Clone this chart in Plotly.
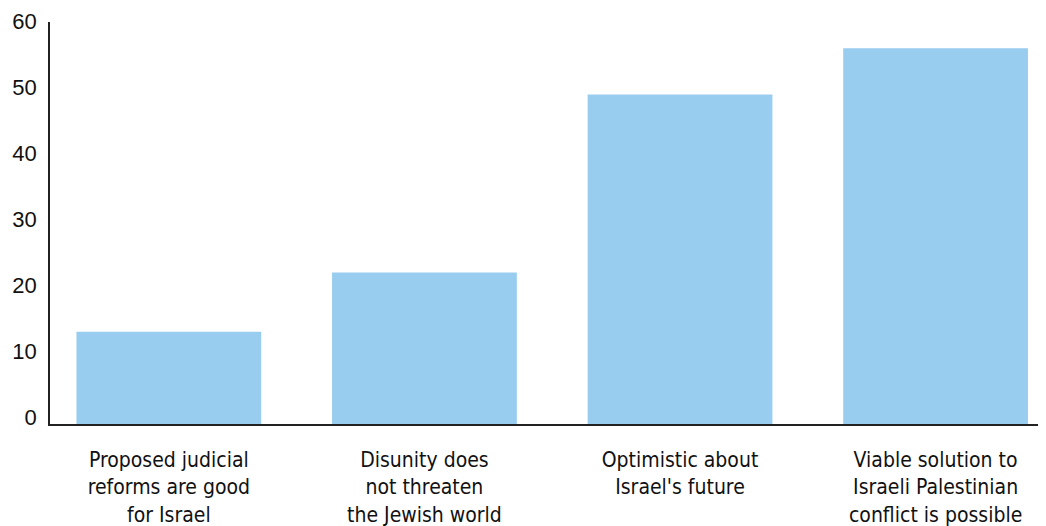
import plotly.graph_objects as go

categories = [
    "Proposed judicial<br>reforms are good<br>for Israel",
    "Disunity does<br>not threaten<br>the Jewish world",
    "Optimistic about<br>Israel's future",
    "Viable solution to<br>Israeli Palestinian<br>conflict is possible",
]
values = [14, 23, 50, 57]
y_ticks = [0, 10, 20, 30, 40, 50, 60]

fig = go.Figure(
    go.Bar(
        x=list(range(len(categories))),
        y=values,
        width=0.723,
        marker=dict(color="#99CDEF", line=dict(width=0)),
        hoverinfo="skip",
    )
)

fig.update_layout(
    width=1046,
    height=526,
    margin=dict(l=42, r=8, t=14, b=110, autoexpand=False),
    paper_bgcolor="white",
    plot_bgcolor="white",
    showlegend=False,
    xaxis=dict(
        automargin=False,
        range=[-0.465, 3.432],
        tickmode="array",
        tickvals=list(range(len(categories))),
        ticktext=categories,
        showgrid=False,
        zeroline=False,
        showline=True,
        linecolor="#222222",
        linewidth=1.5,
        ticks="",
        ticklabelstandoff=16,
        tickfont=dict(family="Liberation Sans Narrow, DejaVu Sans Condensed, Roboto, sans-serif",
                      size=21, color="#111111"),
    ),
    yaxis=dict(
        automargin=False,
        range=[0, 61],
        tickmode="array",
        tickvals=y_ticks,
        ticktext=[str(v) for v in y_ticks],
        showgrid=False,
        zeroline=False,
        showline=True,
        linecolor="#222222",
        linewidth=1.5,
        ticks="",
        ticklabelstandoff=7,
        ticklabelshift=-7,
        tickfont=dict(family="Liberation Sans, Arial, sans-serif", size=22, color="#111111"),
    ),
)

fig.write_html("out.html")
